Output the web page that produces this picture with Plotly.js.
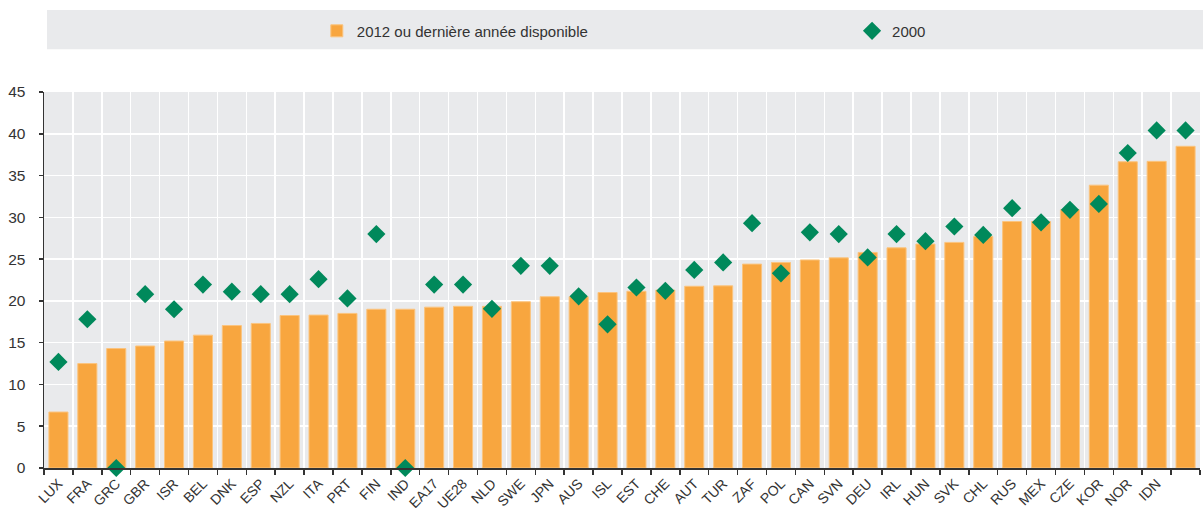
<!DOCTYPE html>
<html>
<head>
<meta charset="utf-8">
<script src="https://cdn.plot.ly/plotly-3.0.1.min.js"></script>
<style>html,body{margin:0;padding:0;background:#fff;}#chart{width:1203px;height:508px;}</style>
</head>
<body>
<div id="chart"></div>
<script>
// Category codes (the last bar has no visible label in the reference)
const categories = ["LUX","FRA","GRC","GBR","ISR","BEL","DNK","ESP","NZL","ITA","PRT","FIN","IND","EA17","UE28","NLD","SWE","JPN","AUS","ISL","EST","CHE","AUT","TUR","ZAF","POL","CAN","SVN","DEU","IRL","HUN","SVK","CHL","RUS","MEX","CZE","KOR","NOR","IDN","_40"];
const tickLabels = ["LUX","FRA","GRC","GBR","ISR","BEL","DNK","ESP","NZL","ITA","PRT","FIN","IND","EA17","UE28","NLD","SWE","JPN","AUS","ISL","EST","CHE","AUT","TUR","ZAF","POL","CAN","SVN","DEU","IRL","HUN","SVK","CHL","RUS","MEX","CZE","KOR","NOR","IDN",""];
const values2012 = [6.7,12.5,14.3,14.6,15.2,15.9,17.05,17.3,18.25,18.3,18.5,19.0,19.0,19.25,19.35,19.35,19.9,20.5,20.5,21.0,21.15,21.3,21.75,21.8,24.4,24.6,24.9,25.15,25.8,26.35,26.8,27.0,27.7,29.5,29.5,30.9,33.85,36.65,36.7,38.5];
const values2000 = [12.7,17.8,0,20.8,19.0,21.95,21.1,20.8,20.8,22.6,20.3,28.0,0,21.95,21.95,19.05,24.2,24.2,20.55,17.2,21.6,21.2,23.7,24.6,29.3,23.3,28.2,28.0,25.2,28.0,27.15,28.9,27.9,31.1,29.4,30.9,31.6,37.7,40.4,40.4];
const yTicks = [0,5,10,15,20,25,30,35,40,45];
const seriesNames = ["2012 ou dernière année disponible","2000"];

const FONT = "'Liberation Sans', Arial, sans-serif";
const TXT = "#333333";
const data = [
  {
    type: "bar", name: seriesNames[0], x: categories, y: values2012, legend: "legend",
    marker: {color: "#f8a63f", line: {color: "#fbc47e", width: 1}},
    hoverinfo: "x+y"
  },
  {
    type: "scatter", mode: "markers", name: seriesNames[1], x: categories, y: values2000, legend: "legend2",
    marker: {symbol: "diamond", size: 14, color: "#00895b"},
    cliponaxis: false, hoverinfo: "x+y"
  }
];

const legendCommon = {
  orientation: "h", xanchor: "left", y: 1.162, yanchor: "middle",
  bgcolor: "rgba(0,0,0,0)", font: {family: FONT, size: 15, color: TXT}
};

const layout = {
  width: 1203, height: 508,
  margin: {l: 44, r: 3, t: 92, b: 40},
  paper_bgcolor: "#ffffff",
  plot_bgcolor: "#e9eaec",
  font: {family: FONT, size: 15, color: TXT},
  bargap: 0.34,
  showlegend: true,
  legend: Object.assign({}, legendCommon, {x: 0.236}),
  legend2: Object.assign({}, legendCommon, {x: 0.699}),
  xaxis: {
    type: "category", tickmode: "array", tickvals: categories, ticktext: tickLabels,
    tickangle: -45, tickson: "boundaries", ticks: "outside", ticklen: 5, tickwidth: 1.5, tickcolor: TXT,
    showgrid: true, gridcolor: "#ffffff", gridwidth: 1.5,
    showline: true, linecolor: TXT, linewidth: 2,
    tickfont: {family: FONT, size: 14, color: TXT},
    range: [-0.5, 39.5], fixedrange: true
  },
  yaxis: {
    range: [0, 45], tickmode: "array", tickvals: yTicks, ticks: "outside", ticklen: 4, tickwidth: 1.5, tickcolor: TXT,
    ticklabelstandoff: 10,
    showgrid: true, gridcolor: "#ffffff", gridwidth: 1.5, zeroline: false,
    showline: true, linecolor: TXT, linewidth: 1.5,
    tickfont: {family: FONT, size: 15.5, color: TXT}, fixedrange: true
  },
  shapes: [
    {type: "rect", xref: "paper", yref: "paper", x0: 0.0026, x1: 1.0026, y0: 1.114, y1: 1.218,
     fillcolor: "#e9eaec", line: {width: 0}, layer: "below"}
  ]
};

Plotly.newPlot("chart", data, layout, {displayModeBar: false, staticPlot: true});
</script>
</body>
</html>
